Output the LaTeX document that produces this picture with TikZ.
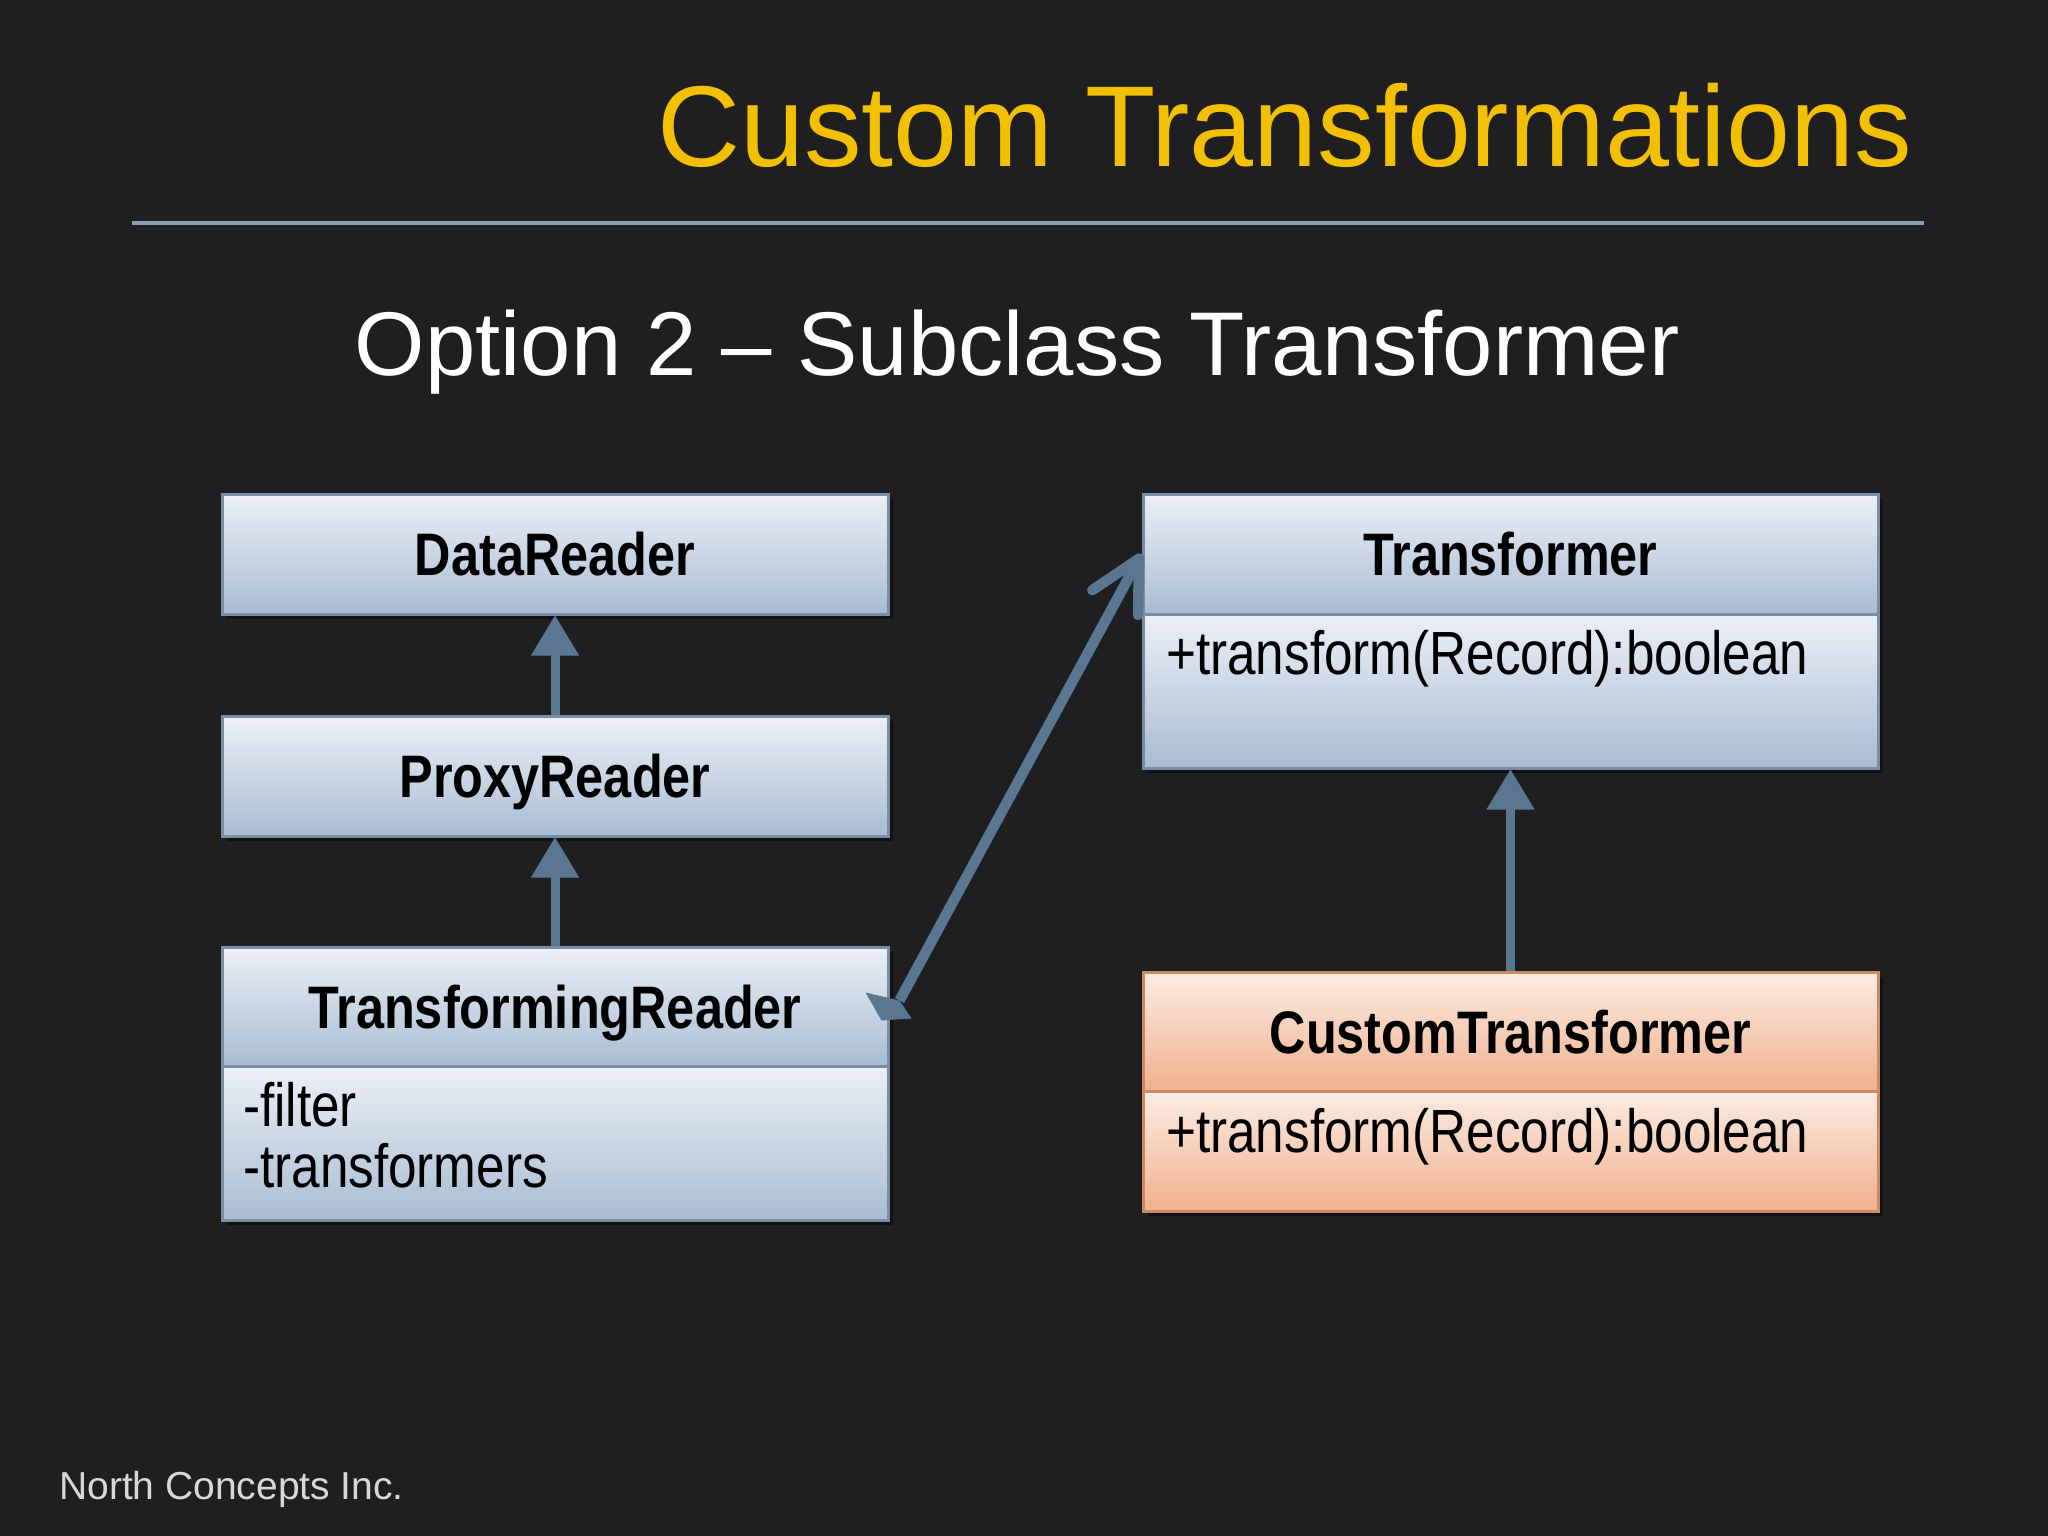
\documentclass[tikz,border=0pt]{standalone}
\usepackage{fontspec}
\setmainfont{Liberation Sans}
\newfontfamily\narrowfont[FakeStretch=0.84]{Liberation Sans}
\usetikzlibrary{arrows.meta,shadows,calc}
\definecolor{bgcol}{HTML}{1F1F22}
\definecolor{titlecol}{HTML}{F2C000}
\definecolor{sepcol}{HTML}{8B9DB0}
\definecolor{footcol}{HTML}{D8D8DA}
\definecolor{arrcol}{HTML}{5B7690}
\definecolor{blueA}{HTML}{ECF0F6}
\definecolor{blueB}{HTML}{E0E6EF}
\definecolor{blueC}{HTML}{A9BCD3}
\definecolor{bluebd}{HTML}{7A8DA4}
\definecolor{orA}{HTML}{FBECE4}
\definecolor{orB}{HTML}{F8DCCB}
\definecolor{orC}{HTML}{F1B08C}
\definecolor{orbd}{HTML}{C98B63}
\begin{document}
\begin{tikzpicture}[x=1pt,y=-1pt,
  bluebox/.style={draw=bluebd, line width=3pt, top color=blueA, middle color=blueB, bottom color=blueC, inner sep=0pt,
    drop shadow={shadow xshift=5pt, shadow yshift=-5pt, opacity=0.45, fill=black}},
  orbox/.style={draw=orbd, line width=3pt, top color=orA, middle color=orB, bottom color=orC, inner sep=0pt,
    drop shadow={shadow xshift=5pt, shadow yshift=-5pt, opacity=0.45, fill=black}},
  hdr/.style={anchor=base, inner sep=0pt, text=black, font=\narrowfont\bfseries\fontsize{60}{60}\selectfont},
  mem/.style={anchor=base west, inner sep=0pt, text=black, font=\narrowfont\fontsize{61}{61}\selectfont},
  inh/.style={draw=arrcol, line width=9pt, -{Triangle[length=40pt,width=48pt,line width=1pt]}},
  assoc/.style={draw=arrcol, line width=10.5pt, -{Straight Barb[length=50pt,width=52pt,round]}}
]
\fill[bgcol] (0,0) rectangle (2048,1536);
\useasboundingbox (0,0) rectangle (2048,1536);

% title
\node[anchor=base west, inner sep=0pt, text=titlecol, font=\fontsize{115}{115}\selectfont] (title) at (657,166) {Custom Transformations};
\coordinate (sepL) at (132,223);
\coordinate (sepR) at (1924,223);
\draw[sepcol, line width=4pt] (sepL) -- (sepR);
\node[anchor=base, inner sep=0pt, text=white, font=\fontsize{90.5}{90}\selectfont] (sub) at (1017,375) {Option 2 – Subclass Transformer};

% left column
\node[bluebox, minimum width=666, minimum height=120] (dr) at (555,554) {};
\node[hdr] (drl) at (555,575.5) {DataReader};
\node[bluebox, minimum width=666, minimum height=120] (pr) at (555,776) {};
\node[hdr] (prl) at (555,797.5) {ProxyReader};
\node[bluebox, minimum width=666, minimum height=119] (trh) at (555,1006.5) {};
\node[bluebox, minimum width=666, minimum height=154] (trb) at (555,1143) {};
\node[hdr] (trl) at (555,1028) {TransformingReader};
\node[mem] (tra1) at (243,1126) {-filter};
\node[mem] (tra2) at (243,1187) {-transformers};

% right column
\node[bluebox, minimum width=735, minimum height=120] (th) at (1510.5,554) {};
\node[bluebox, minimum width=735, minimum height=154] (tb) at (1510.5,691) {};
\node[hdr] (thl) at (1510.5,575.5) {Transformer};
\node[mem] (tbm) at (1166,674) {+transform(Record):boolean};
\node[orbox, minimum width=735, minimum height=119] (cth) at (1510.5,1031.5) {};
\node[orbox, minimum width=735, minimum height=120] (ctb) at (1510.5,1151) {};
\node[hdr] (ctl) at (1510.5,1053) {CustomTransformer};
\node[mem] (ctm) at (1166,1152) {+transform(Record):boolean};

% connectors
\draw[inh] (pr.north) -- (dr.south);
\draw[inh] (trh.north) -- (pr.south);
\draw[inh] (cth.north) -- (tb.south);
\coordinate (trend) at ($(trh.east)+(10,-6)$);
\fill[arrcol] ($(trh.east)+(-24,-14)$) -- (trend) -- ($(trh.east)+(22,12)$) -- ($(trh.east)+(-8,14)$) -- cycle;
\draw[assoc] (trend) -- (th.west);

% footer
\node[anchor=base west, inner sep=0pt, text=footcol, font=\fontsize{39}{39}\selectfont] (foot) at (59,1499) {North Concepts Inc.};
\end{tikzpicture}
\end{document}
